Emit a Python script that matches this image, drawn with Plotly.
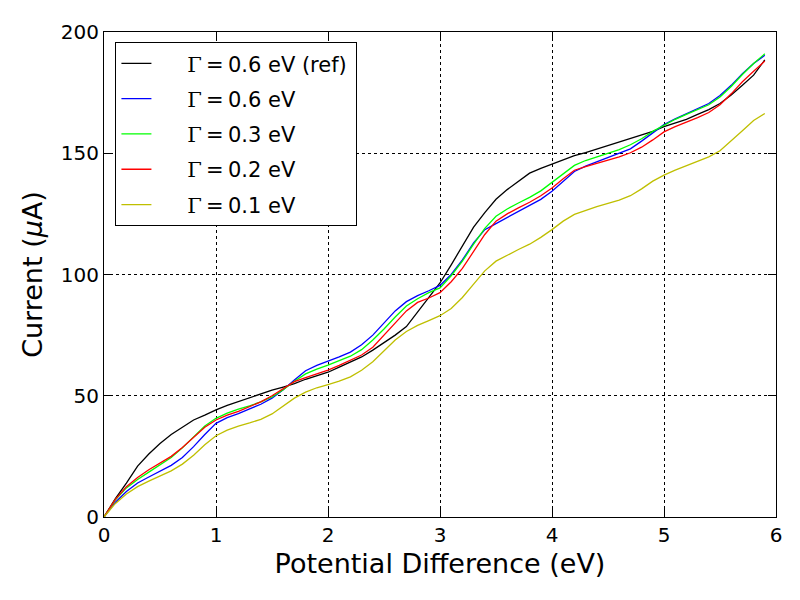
import plotly.graph_objects as go

# potential difference (eV), 0.0 .. 5.9 in 0.1 steps
voltage = [round(0.1 * i, 1) for i in range(60)]

current_ref = [0, 7.5, 14, 21, 26, 30.3, 34, 37, 40, 42,
               44.2, 46, 47.6, 49.4, 51, 52.3, 53.6, 55, 56.8, 58.3,
               59.7, 61.8, 63.8, 66, 68.8, 71.8, 75, 78.5, 84.5, 90.5,
               96.5, 104, 112, 119.5, 125.5, 131, 135, 138.5, 141.8, 143.8,
               145.5, 147.2, 149, 150.3, 151.8, 153, 154.6, 156, 157.5, 159,
               161, 162.5, 164, 166, 168, 170.5, 174, 178, 182.2, 188.5]

current_g06 = [0, 6, 10.5, 14, 16.5, 19, 21.3, 24.5, 29, 34,
               38.6, 41, 42.6, 44.6, 46.5, 49, 52.5, 56.5, 60.3, 62.5,
               64.2, 66, 68, 71, 75, 80, 85, 88.8, 91.3, 93.3,
               95.5, 100, 106, 113, 118.5, 121, 123.5, 126, 128.3, 131,
               134.3, 138.5, 142.5, 144.7, 146.5, 148, 150, 151.8, 155, 158.5,
               161.8, 164.2, 166.3, 168.2, 170.5, 173.8, 178, 182.8, 187, 190.4]

current_g03 = [0, 7, 12, 15.5, 18.5, 21.5, 24.5, 28.5, 33, 37.5,
               40.7, 42.8, 44.5, 45.8, 47.5, 49.5, 52.5, 56, 59, 61,
               62.6, 64.3, 66.3, 69, 73, 77.5, 82.5, 87, 90, 92.5,
               94.5, 99.5, 105.5, 112.5, 119, 124, 127, 129.5, 131.8, 134.5,
               138, 141.8, 145, 147, 148.5, 150, 151.5, 153.5, 156, 159,
               161.5, 164, 166, 168, 170, 173.2, 177.5, 182.5, 187, 191]

current_g02 = [0, 7.2, 12.5, 16.3, 19.5, 22.3, 25, 28.7, 33, 37,
               40, 42, 43.6, 45.5, 47.5, 50, 53, 55.8, 57.5, 59,
               60.6, 62.5, 64.5, 66.8, 70, 75, 80, 85, 88.5, 90.3,
               92.5, 97, 102.5, 109.5, 116.5, 122, 125, 127.5, 129.8, 132.5,
               135.7, 139.5, 143, 144.5, 145.8, 147, 148.5, 150.2, 152.5, 155.5,
               158.8, 161, 162.8, 164.7, 166.8, 170, 174.5, 179.5, 183.8, 188]

current_g01 = [0, 5.5, 9.5, 12.5, 14.8, 16.8, 19, 21.8, 25.5, 29.8,
               33.5, 35.8, 37.5, 38.8, 40.3, 42.5, 45.8, 49, 51.5, 53.3,
               54.6, 56, 57.8, 60.5, 64, 68.5, 73, 76.5, 79, 81,
               83, 86, 90.5, 96, 101.5, 105.5, 108, 110.3, 112.5, 115.3,
               118.5, 122, 124.8, 126.5, 128, 129.3, 130.7, 132.5, 135.3, 138.5,
               141, 143, 144.8, 146.5, 148.5, 151, 155, 159.3, 163.5, 166.4]

# mathtext-like Gamma prefix, padded so the text sits right of the line sample
gamma = ("\u00a0\u00a0\u00a0\u00a0\u2009<span style='font-family:DejaVu Serif'>Γ</span>"
         "\u2009=\u2009")
labels = [gamma + "0.6 eV (ref)\u2009", gamma + "0.6 eV", gamma + "0.3 eV",
          gamma + "0.2 eV", gamma + "0.1 eV"]
series = [current_ref, current_g06, current_g03, current_g02, current_g01]
colors = ["#000000", "#0000ff", "#00ff00", "#ff0000", "#bfbf00"]

x_ticks = [0, 1, 2, 3, 4, 5, 6]
y_ticks = [0, 50, 100, 150, 200]

fig = go.Figure()
for i, (name, ys, col) in enumerate(zip(labels, series, colors)):
    fig.add_trace(go.Scatter(
        x=voltage, y=ys, mode="lines", name=name,
        legendgroup="g%d" % i,
        line=dict(color=col, width=1.3)
    ))

axis_common = dict(
    showline=True, linecolor="black", linewidth=1, mirror="allticks",
    ticks="inside", ticklen=8, tickcolor="black", tickwidth=1,
    showgrid=True, gridcolor="black", gridwidth=1, griddash="dot",
    zeroline=False,
    tickfont=dict(family="DejaVu Sans", size=20, color="black"),
)

fig.update_layout(
    width=800, height=600,
    margin=dict(l=96, r=32, t=22, b=91),
    paper_bgcolor="white", plot_bgcolor="white",
    font=dict(family="DejaVu Sans", color="black"),
    showlegend=True,
    legend=dict(
        x=0.017, y=0.979, xanchor="left", yanchor="top",
        bgcolor="white", bordercolor="black", borderwidth=1,
        font=dict(family="DejaVu Sans", size=21, color="black"),
        tracegroupgap=5,
    ),
    xaxis=dict(
        range=[0, 6], tickvals=x_ticks,
        title=dict(text="Potential Difference (eV)", font=dict(size=27), standoff=8),
        **axis_common
    ),
    yaxis=dict(
        range=[0, 200], tickvals=y_ticks,
        title=dict(text="Current (<i>μ</i>A)", font=dict(size=27), standoff=10),
        **axis_common
    ),
)

fig.write_html("out.html")
